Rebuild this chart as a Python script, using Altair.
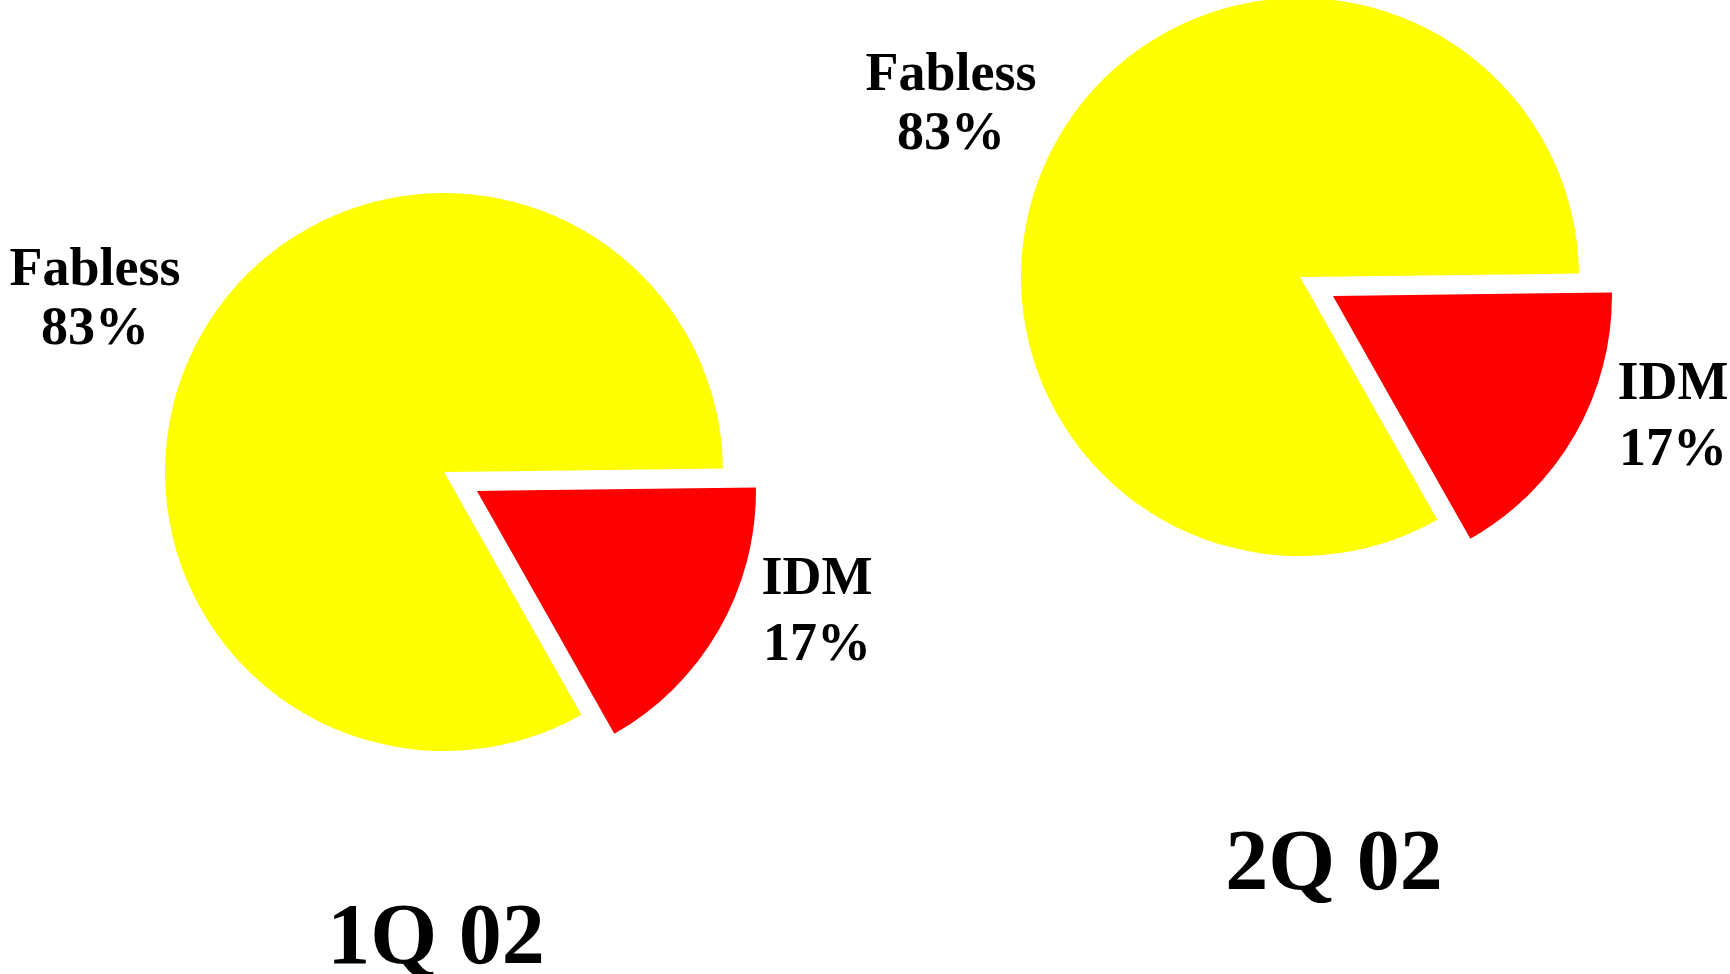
import math
import altair as alt
import pandas as pd

# Market share of fabless vs. IDM, by quarter
quarters = ["1Q 02", "2Q 02"]
segments = ["Fabless", "IDM"]
share_1q = [83, 17]
share_2q = [83, 17]
seg_colors = ["#FFFF00", "#FF0000"]

# Layout (pixels)
W, H = 1730, 974
radius = 279
explode = [0, 38]                      # IDM wedge pulled out
rotation = math.radians(150.5)         # where the Fabless wedge starts
centers = {"1Q 02": (444, 472), "2Q 02": (1300, 277)}
title_pos = {"1Q 02": (436, 963), "2Q 02": (1334, 889)}
label_dx = [-349, 373]
name_dy = [-187, 122]
pct_dy = [-128, 188]
font = "Liberation Serif"

shares = {"1Q 02": share_1q, "2Q 02": share_2q}

arc_rows, label_rows, title_rows = [], [], []
for q in quarters:
    cx, cy = centers[q]
    vals = shares[q]
    total = sum(vals)
    acc = 0
    for i, (seg, v) in enumerate(zip(segments, vals)):
        t0 = rotation + 2 * math.pi * acc / total
        acc += v
        t1 = rotation + 2 * math.pi * acc / total
        mid = (t0 + t1) / 2
        arc_rows.append({
            "quarter": q, "segment": seg, "share": v,
            "t0": t0, "t1": t1,
            "px": cx + explode[i] * math.sin(mid),
            "py": cy - explode[i] * math.cos(mid),
        })
        label_rows.append({"quarter": q, "segment": seg, "text": seg,
                           "px": cx + label_dx[i], "py": cy + name_dy[i]})
        label_rows.append({"quarter": q, "segment": seg, "text": f"{v}%",
                           "px": cx + label_dx[i], "py": cy + pct_dy[i]})
    tx, ty = title_pos[q]
    title_rows.append({"quarter": q, "px": tx, "py": ty})

arcs = alt.Chart(pd.DataFrame(arc_rows)).mark_arc(radius=radius).encode(
    x=alt.X("px:Q", scale=None, axis=None),
    y=alt.Y("py:Q", scale=None, axis=None),
    theta=alt.Theta("t0:Q", scale=None, stack=None),
    theta2="t1:Q",
    color=alt.Color("segment:N", scale=alt.Scale(domain=segments, range=seg_colors), legend=None),
)

labels = alt.Chart(pd.DataFrame(label_rows)).mark_text(
    font=font, fontWeight="bold", fontSize=54, align="center", baseline="alphabetic", color="#000000"
).encode(
    x=alt.X("px:Q", scale=None, axis=None),
    y=alt.Y("py:Q", scale=None, axis=None),
    text="text:N",
)

titles = alt.Chart(pd.DataFrame(title_rows)).mark_text(
    font=font, fontWeight="bold", fontSize=86, align="center", baseline="alphabetic", color="#000000"
).encode(
    x=alt.X("px:Q", scale=None, axis=None),
    y=alt.Y("py:Q", scale=None, axis=None),
    text="quarter:N",
)

chart = alt.layer(arcs, labels, titles).properties(
    width=W, height=H, padding=0, autosize=alt.AutoSizeParams(type="none"), background="#FFFFFF"
).configure_view(stroke=None)

chart.save("out.html", embed_options={"renderer": "svg", "actions": False})
